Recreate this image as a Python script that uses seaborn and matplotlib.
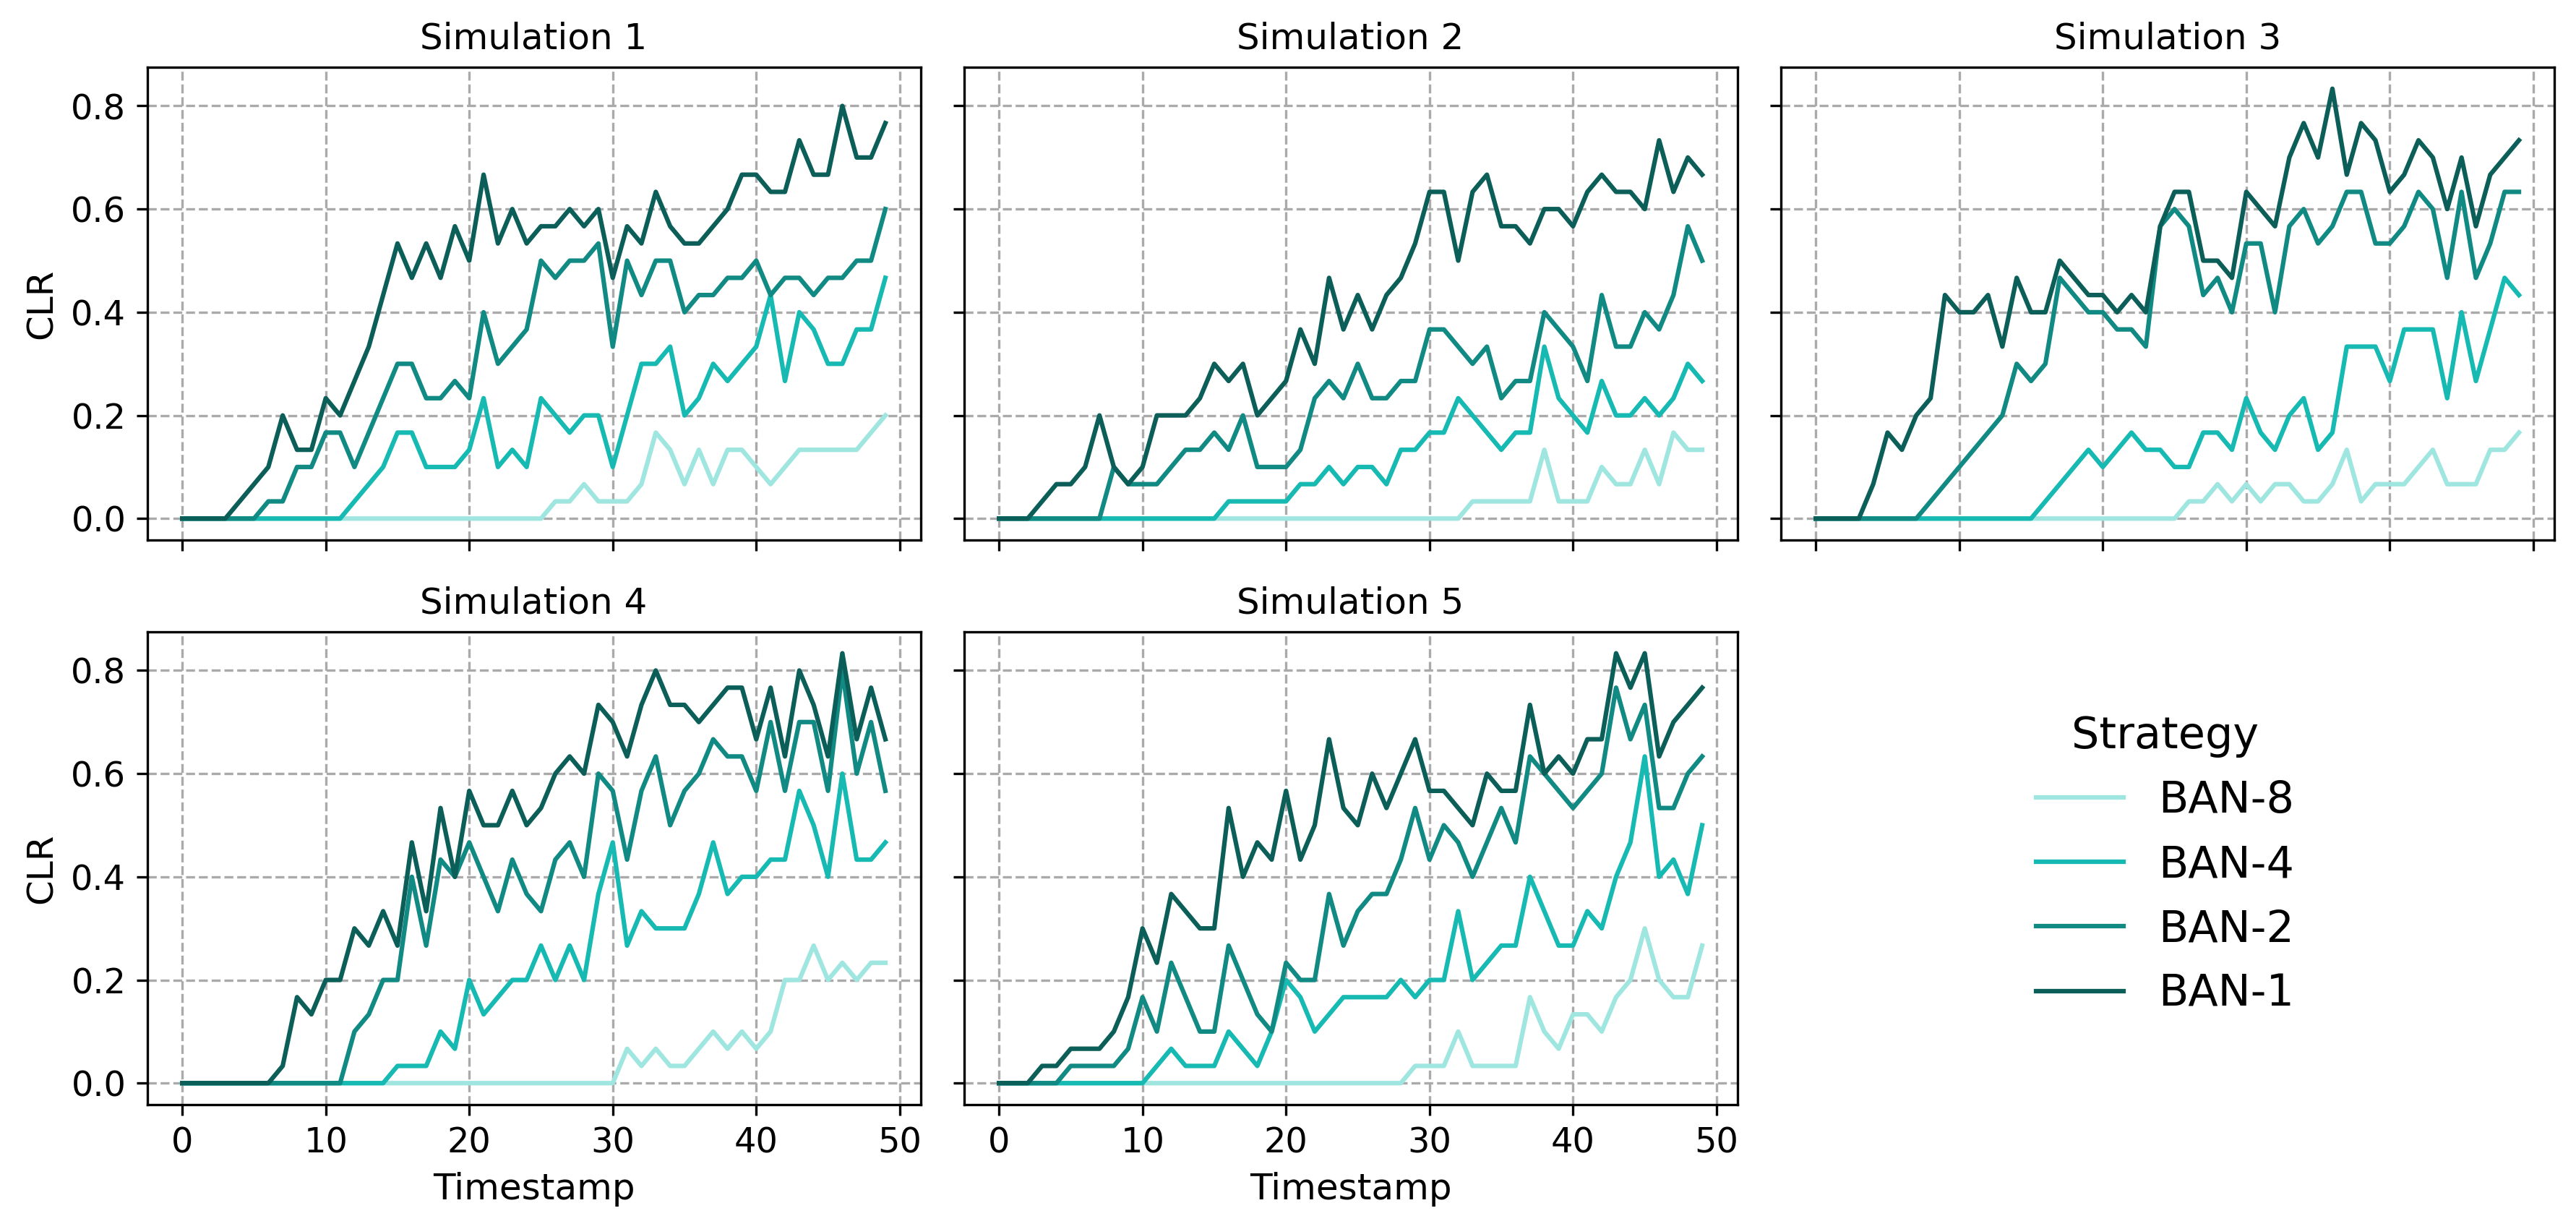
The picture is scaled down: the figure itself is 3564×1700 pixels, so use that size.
import numpy as np
import pandas as pd
import matplotlib
matplotlib.use("Agg")
import matplotlib.pyplot as plt
import seaborn as sns

# clicks per timestamp (out of N_USERS users)
N_USERS = 30
timestamps = list(range(50))
strategies = ['BAN-8', 'BAN-4', 'BAN-2', 'BAN-1']
palette = {'BAN-8': '#9fe6e1', 'BAN-4': '#17b9b3', 'BAN-2': '#128a84', 'BAN-1': '#0c5e59'}

sim1_ban1 = [0,0,0,0,1,2,3,6,4,4, 7,6,8,10,13,16,14,16,14,17, 15,20,16,18,16,17,17,18,17,18,
             14,17,16,19,17,16,16,17,18,20, 20,19,19,22,20,20,24,21,21,23]
sim1_ban2 = [0,0,0,0,0,0,1,1,3,3, 5,5,3,5,7,9,9,7,7,8, 7,12,9,10,11,15,14,15,15,16,
             10,15,13,15,15,12,13,13,14,14, 15,13,14,14,13,14,14,15,15,18]
sim1_ban4 = [0,0,0,0,0,0,0,0,0,0, 0,0,1,2,3,5,5,3,3,3, 4,7,3,4,3,7,6,5,6,6,
             3,6,9,9,10,6,7,9,8,9, 10,13,8,12,11,9,9,11,11,14]
sim1_ban8 = [0,0,0,0,0,0,0,0,0,0, 0,0,0,0,0,0,0,0,0,0, 0,0,0,0,0,0,1,1,2,1,
             1,1,2,5,4,2,4,2,4,4, 3,2,3,4,4,4,4,4,5,6]

sim2_ban1 = [0,0,0,1,2,2,3,6,3,2, 3,6,6,6,7,9,8,9,6,7, 8,11,9,14,11,13,11,13,14,16,
             19,19,15,19,20,17,17,16,18,18, 17,19,20,19,19,18,22,19,21,20]
sim2_ban2 = [0,0,0,0,0,0,0,0,3,2, 2,2,3,4,4,5,4,6,3,3, 3,4,7,8,7,9,7,7,8,8,
             11,11,10,9,10,7,8,8,12,11, 10,8,13,10,10,12,11,13,17,15]
sim2_ban4 = [0,0,0,0,0,0,0,0,0,0, 0,0,0,0,0,0,1,1,1,1, 1,2,2,3,2,3,3,2,4,4,
             5,5,7,6,5,4,5,5,10,7, 6,5,8,6,6,7,6,7,9,8]
sim2_ban8 = [0,0,0,0,0,0,0,0,0,0, 0,0,0,0,0,0,0,0,0,0, 0,0,0,0,0,0,0,0,0,0,
             0,0,0,1,1,1,1,1,4,1, 1,1,3,2,2,4,2,5,4,4]

sim3_ban1 = [0,0,0,0,2,5,4,6,7,13, 12,12,13,10,14,12,12,15,14,13, 13,12,13,12,17,19,19,15,15,14,
             19,18,17,21,23,21,25,20,23,22, 19,20,22,21,18,21,17,20,21,22]
sim3_ban2 = [0,0,0,0,0,0,0,0,1,2, 3,4,5,6,9,8,9,14,13,12, 12,11,11,10,17,18,17,13,14,12,
             16,16,12,17,18,16,17,19,19,16, 16,17,19,18,14,19,14,16,19,19]
sim3_ban4 = [0,0,0,0,0,0,0,0,0,0, 0,0,0,0,0,0,1,2,3,4, 3,4,5,4,4,3,3,5,5,4,
             7,5,4,6,7,4,5,10,10,10, 8,11,11,11,7,12,8,11,14,13]
sim3_ban8 = [0,0,0,0,0,0,0,0,0,0, 0,0,0,0,0,0,0,0,0,0, 0,0,0,0,0,0,1,1,2,1,
             2,1,2,2,1,1,2,4,1,2, 2,2,3,4,2,2,2,4,4,5]

sim4_ban1 = [0,0,0,0,0,0,0,1,5,4, 6,6,9,8,10,8,14,10,16,12, 17,15,15,17,15,16,18,19,18,22,
             21,19,22,24,22,22,21,22,23,23, 20,23,19,24,22,19,25,20,23,20]
sim4_ban2 = [0,0,0,0,0,0,0,0,0,0, 0,0,3,4,6,6,12,8,13,12, 14,12,10,13,11,10,13,14,12,18,
             17,13,17,19,15,17,18,20,19,19, 17,21,17,21,21,17,24,18,21,17]
sim4_ban4 = [0,0,0,0,0,0,0,0,0,0, 0,0,0,0,0,1,1,1,3,2, 6,4,5,6,6,8,6,8,6,11,
             14,8,10,9,9,9,11,14,11,12, 12,13,13,17,15,12,18,13,13,14]
sim4_ban8 = [0,0,0,0,0,0,0,0,0,0, 0,0,0,0,0,0,0,0,0,0, 0,0,0,0,0,0,0,0,0,0,
             0,2,1,2,1,1,2,3,2,3, 2,3,6,6,8,6,7,6,7,7]

sim5_ban1 = [0,0,0,1,1,2,2,2,3,5, 9,7,11,10,9,9,16,12,14,13, 17,13,15,20,16,15,18,16,18,20,
             17,17,16,15,18,17,17,22,18,19, 18,20,20,25,23,25,19,21,22,23]
sim5_ban2 = [0,0,0,0,0,1,1,1,1,2, 5,3,7,5,3,3,8,6,4,3, 7,6,6,11,8,10,11,11,13,16,
             13,15,14,12,14,16,14,19,18,17, 16,17,18,23,20,22,16,16,18,19]
sim5_ban4 = [0,0,0,0,0,0,0,0,0,0, 0,1,2,1,1,1,3,2,1,3, 6,5,3,4,5,5,5,5,6,5,
             6,6,10,6,7,8,8,12,10,8, 8,10,9,12,14,19,12,13,11,15]
sim5_ban8 = [0,0,0,0,0,0,0,0,0,0, 0,0,0,0,0,0,0,0,0,0, 0,0,0,0,0,0,0,0,0,1,
             1,1,3,1,1,1,1,5,3,2, 4,4,3,5,6,9,6,5,5,8]

sims = {
    1: {'BAN-8': sim1_ban8, 'BAN-4': sim1_ban4, 'BAN-2': sim1_ban2, 'BAN-1': sim1_ban1},
    2: {'BAN-8': sim2_ban8, 'BAN-4': sim2_ban4, 'BAN-2': sim2_ban2, 'BAN-1': sim2_ban1},
    3: {'BAN-8': sim3_ban8, 'BAN-4': sim3_ban4, 'BAN-2': sim3_ban2, 'BAN-1': sim3_ban1},
    4: {'BAN-8': sim4_ban8, 'BAN-4': sim4_ban4, 'BAN-2': sim4_ban2, 'BAN-1': sim4_ban1},
    5: {'BAN-8': sim5_ban8, 'BAN-4': sim5_ban4, 'BAN-2': sim5_ban2, 'BAN-1': sim5_ban1},
}

rows = []
for sim, series in sims.items():
    for s in strategies:
        for t, c in zip(timestamps, series[s]):
            rows.append({'Simulation': sim, 'Strategy': s, 'Timestamp': t, 'CLR': c / N_USERS})
df = pd.DataFrame(rows)

fig, axes = plt.subplots(2, 3, figsize=(11.88, 5.6667), sharex=True, sharey=True)
fig.subplots_adjust(left=0.0571, right=0.9915, top=0.9453, bottom=0.1012, wspace=0.056, hspace=0.194)

for i, ax in enumerate(axes.flat[:5]):
    sub = df[df['Simulation'] == i + 1]
    sns.lineplot(data=sub, x='Timestamp', y='CLR', hue='Strategy', hue_order=strategies,
                 palette=palette, linewidth=1.5, ax=ax, legend=(i == 0))
    ax.set_title(f'Simulation {i + 1}', fontsize=12)
    ax.grid(True, linestyle='--', color='#aaaaaa', linewidth=0.8)
    ax.tick_params(labelsize=11.5)
    ax.set_xlabel('Timestamp' if i >= 3 else '', fontsize=12)
    ax.set_ylabel('CLR' if i % 3 == 0 else '', fontsize=12)

axes[1, 2].axis('off')

# legend goes into the empty slot
handles, labels = axes[0, 0].get_legend_handles_labels()
axes[0, 0].get_legend().remove()
fig.legend(handles, labels, title='Strategy', loc='center', bbox_to_anchor=(0.8405, 0.296),
           frameon=False, fontsize=14.5, title_fontsize=14.5)

fig.savefig('out.png', dpi=300)
